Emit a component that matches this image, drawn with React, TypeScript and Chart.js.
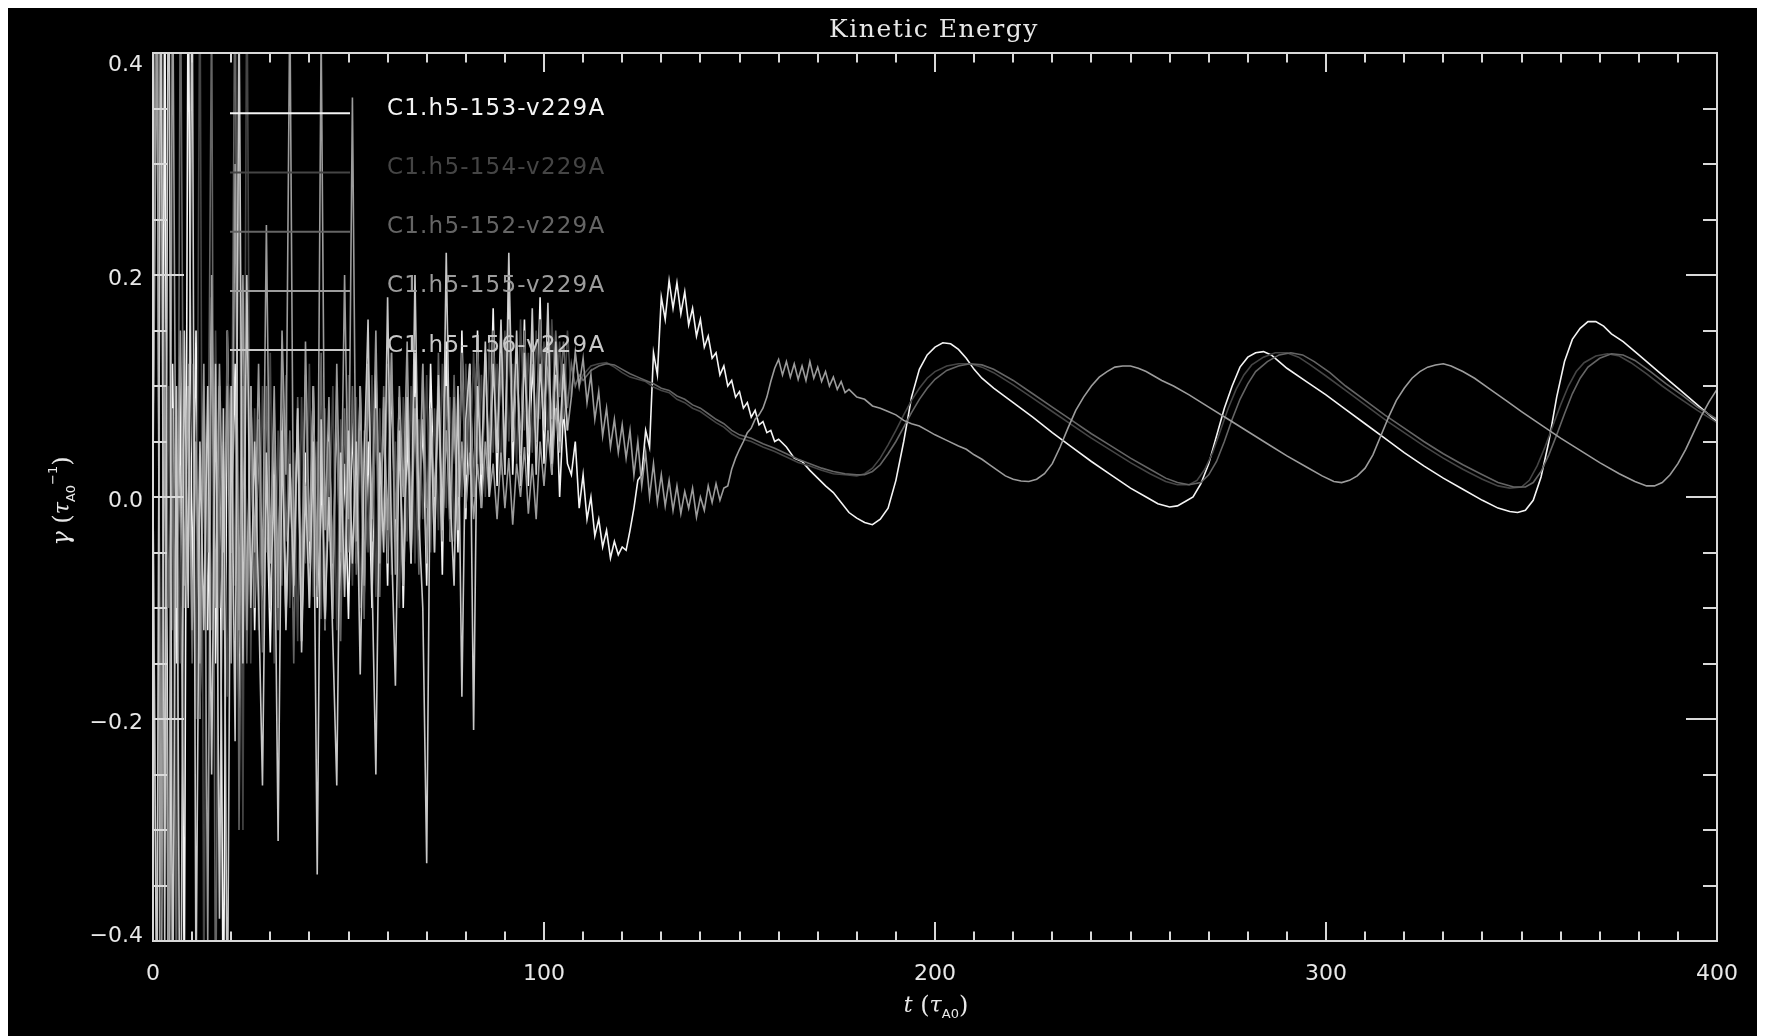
import React, { useEffect, useRef } from 'react';
import { Chart, registerables } from 'chart.js';

Chart.register(...registerables);

// ---------- axes ----------
const X_MIN = 0;
const X_MAX = 400;
const X_MINOR_STEP = 10;
const X_TICK_VALUES = [0, 100, 200, 300, 400];
const X_TICK_LABELS = ['0', '100', '200', '300', '400'];
const Y_MIN = -0.4;
const Y_MAX = 0.4;
const Y_MINOR_STEP = 0.05;
const Y_TICK_VALUES = [-0.4, -0.2, 0, 0.2, 0.4];
const Y_TICK_LABELS = ['\u22120.4', '\u22120.2', '0.0', '0.2', '0.4'];

const TITLE = 'Kinetic Energy';
const SERIES_NAMES = ['C1.h5-153-v229A', 'C1.h5-154-v229A', 'C1.h5-152-v229A', 'C1.h5-155-v229A', 'C1.h5-156-v229A'];
const SERIES_COLORS = ['#f4f4f4', '#454545', '#656565', '#9c9c9c', '#c8c8c8'];

// ---------- data: common early time grid (t = 0 .. 109) ----------
const T_EARLY = [0, 1, 2, 3, 4, 5, 6, 7, 8, 9, 10, 11, 12, 13, 14, 15, 16, 17, 18, 19, 20, 21, 22, 23, 24, 25, 26, 27, 28, 29, 30, 31, 32, 33, 34, 35, 36, 37, 38, 39, 40, 41, 42, 43, 44, 45, 46, 47, 48, 49, 50, 51, 52, 53, 54, 55, 56, 57, 58, 59, 60, 61, 62, 63, 64, 65, 66, 67, 68, 69, 70, 71, 72, 73, 74, 75, 76, 77, 78, 79, 80, 81, 82, 83, 84, 85, 86, 87, 88, 89, 90, 91, 92, 93, 94, 95, 96, 97, 98, 99, 100, 101, 102, 103, 104, 105, 106, 107, 108, 109];

// C1.h5-153 (white)
const V153_EARLY = [0.05, 0.6, -0.6, 0.5, -0.55, 0.12, -0.15, 0.1, -0.45, 0.5, -0.1, 0.15, -0.2, 0.08, -0.12, 0.18, -0.15, 0.1, -0.5, 0.15, -0.05, 0.12, -0.2, 0.05, -0.1, 0.1,
  -0.12, 0.06, -0.1, 0.02, -0.14, 0.05, -0.08, 0.09, -0.11, 0.03, -0.09, 0.07, -0.13, 0.04, -0.06, 0.1, -0.1, 0.02, -0.12, 0.06, -0.07, 0.08, -0.09, 0.03, -0.11,
  0.07, -0.06, 0.1, -0.09, 0.05, -0.1, 0.12, -0.05, 0.08, -0.08, 0.11, -0.04, 0.09, -0.1, 0.06, -0.06, 0.13, -0.03, 0.07, -0.08, 0.12, -0.02, 0.1, -0.07, 0.14, -0.04, 0.09, -0.05, 0.15, -0.02,
  0.12, 0.0, 0.15, -0.01, 0.13, 0.02, 0.17, 0.01, 0.14, 0.03, 0.19, 0.02, 0.13, 0.04, 0.16, 0.01, 0.12, 0.05, 0.18, 0.03, 0.14, 0.02, 0.11, 0.0, 0.08, 0.03];
const T153_TAIL = [107, 108, 109, 110, 111, 112, 113, 114, 115, 116, 117, 118, 119, 120, 121, 122, 123, 124, 125, 126, 127, 128, 129, 130, 131, 132, 133, 134, 135, 136, 137, 138, 139, 140, 141, 142, 143, 144, 145, 146, 147, 148, 149, 150, 151, 152, 153, 154, 155, 156, 157, 158, 159, 160,
  162, 164, 166, 168, 170, 172, 174, 176, 178, 180, 182, 184, 186, 188, 190, 192, 194, 196, 198, 200, 202, 204, 206, 208, 210,
  212, 215, 220, 225, 230, 235, 240, 245, 250, 254, 257, 260, 262, 264, 266, 268, 270, 272, 274, 276, 278, 280, 282, 284, 286, 288, 290, 295, 300, 305, 310, 315, 320, 325, 330, 335, 340, 344, 347, 349, 351, 353, 355, 357, 359, 361, 363, 365, 367, 369, 371, 373, 376, 380, 385, 390, 395, 400];
const V153_TAIL = [0.02, 0.05, -0.01, 0.02, -0.02, 0.0, -0.035, -0.02, -0.045, -0.03, -0.055, -0.04, -0.052, -0.045, -0.048, -0.03, -0.01, 0.015, 0.02, 0.06, 0.045, 0.13, 0.11, 0.18, 0.16, 0.195, 0.17, 0.193, 0.165, 0.185, 0.155, 0.17, 0.145, 0.16, 0.135, 0.145, 0.125, 0.13, 0.11, 0.118, 0.1, 0.105, 0.09, 0.095, 0.08, 0.085, 0.072, 0.078, 0.065, 0.068, 0.058, 0.06, 0.05, 0.052,
  0.045, 0.035, 0.032, 0.024, 0.017, 0.01, 0.004, -0.005, -0.014, -0.019, -0.023, -0.025, -0.02, -0.01, 0.015, 0.05, 0.09, 0.115, 0.128, 0.135, 0.139, 0.138, 0.133, 0.125, 0.115,
  0.107, 0.098, 0.085, 0.072, 0.058, 0.045, 0.032, 0.02, 0.008, 0.0, -0.006, -0.009, -0.008, -0.004, 0.0, 0.012, 0.03, 0.055, 0.08, 0.1, 0.117, 0.126, 0.13, 0.131, 0.128, 0.122, 0.116, 0.104, 0.092, 0.079, 0.066, 0.053, 0.04, 0.028, 0.017, 0.007, -0.003, -0.01, -0.013, -0.014, -0.012, -0.003, 0.018, 0.05, 0.09, 0.122, 0.142, 0.152, 0.158, 0.158, 0.154, 0.147, 0.14, 0.128, 0.113, 0.098, 0.083, 0.068];

// C1.h5-154 (dark grey)
const V154_EARLY = [0.0, -0.45, 0.5, -0.3, 0.1, -0.12, 0.08, -0.15, 0.1, -0.05, 0.12, -0.2, 0.5, -0.45, 0.1, -0.12, 0.15, -0.1, 0.05, -0.18, 0.1, -0.08, 0.35, -0.3, 0.5, -0.15,
  0.08, -0.12, 0.1, -0.05, 0.13, -0.15, 0.06, -0.08, 0.11, -0.1, 0.04, -0.13, 0.09, -0.06, 0.12, -0.09, 0.05, -0.11, 0.08, -0.04, 0.1, -0.12, 0.07, -0.07, 0.11,
  -0.08, 0.09, -0.1, 0.06, -0.05, 0.11, -0.09, 0.08, -0.03, 0.12, -0.07, 0.05, -0.1, 0.09, -0.04, 0.1, -0.06, 0.07, -0.02, 0.11, -0.05, 0.08, -0.03, 0.12, -0.01, 0.09, -0.04, 0.1, 0.0, 0.12,
  0.02, 0.13, 0.03, 0.11, 0.0, 0.14, 0.04, 0.12, 0.02, 0.15, 0.05, 0.12, 0.03, 0.16, 0.06, 0.13, 0.04, 0.15, 0.07, 0.14, 0.05, 0.16, 0.08, 0.14, 0.07, 0.15, 0.09, 0.13, 0.1];
const T154_TAIL = [110, 112, 114, 116, 118, 120, 122, 124, 126, 128, 130, 132, 134, 136, 138, 140, 142, 144, 146, 148, 150, 153, 156, 159, 162, 165, 168, 171, 174, 177, 180, 182, 184, 186, 188, 190, 192, 194, 196, 198, 200, 203, 206, 209, 212, 215, 220, 225, 230, 235, 240, 245, 250, 255, 259, 262, 265, 267, 269, 271, 273, 275, 277, 279, 281, 284, 287, 290, 293, 296, 300, 305, 310, 315, 320, 325, 330, 335, 340, 344, 347, 350, 352, 354, 356, 358, 360, 362, 364, 366, 369, 372, 375, 378, 382, 386, 390, 395, 400];
const V154_TAIL = [0.11, 0.118, 0.12, 0.121, 0.117, 0.112, 0.108, 0.106, 0.104, 0.099, 0.096, 0.094, 0.088, 0.085, 0.08, 0.077, 0.072, 0.067, 0.063, 0.057, 0.053,
  0.05, 0.045, 0.041, 0.036, 0.031, 0.028, 0.024, 0.021, 0.02, 0.019,
  0.021, 0.026, 0.035, 0.047, 0.06, 0.074, 0.087, 0.098, 0.107, 0.113,
  0.118, 0.12, 0.12, 0.117, 0.112,
  0.101, 0.089, 0.077, 0.065, 0.053, 0.042, 0.031,
  0.021, 0.014, 0.011, 0.011, 0.015, 0.025, 0.04, 0.06, 0.08, 0.097, 0.11, 0.119,
  0.126, 0.13, 0.13, 0.126, 0.119,
  0.109, 0.096, 0.083, 0.07, 0.058, 0.046, 0.035, 0.025, 0.016,
  0.01, 0.008, 0.009,
  0.015, 0.028, 0.045, 0.064, 0.083, 0.1, 0.113, 0.121,
  0.127, 0.129, 0.127, 0.121,
  0.111, 0.1, 0.09, 0.078, 0.067];

// C1.h5-152 (grey)
const V152_EARLY = [0.1, 0.5, -0.4, 0.15, -0.1, 0.08, -0.45, 0.5, -0.1, 0.12, -0.15, 0.05, -0.2, 0.1, -0.05, 0.45, -0.5, 0.08, -0.12, 0.15, -0.05, 0.5, -0.3, 0.1, -0.15, 0.08,
  -0.1, 0.07, -0.14, 0.1, -0.06, 0.08, -0.12, 0.12, -0.04, 0.06, -0.15, 0.09, -0.07, 0.11, -0.1, 0.04, -0.08, 0.13, -0.12, 0.05, -0.06, 0.1, -0.13, 0.08, -0.05,
  0.1, -0.07, 0.06, -0.11, 0.12, -0.04, 0.08, -0.09, 0.1, -0.06, 0.13, -0.02, 0.07, -0.08, 0.11, -0.03, 0.09, -0.07, 0.12, -0.01, 0.08, -0.05, 0.13, -0.02, 0.1, -0.04, 0.11, 0.0, 0.13, 0.02,
  0.11, 0.0, 0.14, 0.03, 0.12, 0.01, 0.15, 0.04, 0.13, 0.02, 0.16, 0.05, 0.12, 0.04, 0.15, 0.06, 0.14, 0.05, 0.16, 0.08, 0.13, 0.07, 0.15, 0.09, 0.14, 0.08, 0.12, 0.1, 0.11];
const T152_TAIL = [110, 112, 114, 116, 118, 120, 122, 124, 126, 128, 130, 132, 134, 136, 138, 140, 142, 144, 146, 148, 150, 153, 156, 159, 162, 165, 168, 171, 174, 177, 180, 182, 184, 186, 188, 190, 192, 194, 196, 198, 200, 203, 206, 209, 212, 215, 220, 225, 230, 235, 240, 245, 250, 255, 259, 262, 265, 268, 270, 272, 274, 276, 278, 280, 282, 285, 288, 291, 294, 297, 301, 305, 310, 315, 320, 325, 330, 335, 340, 344, 348, 351, 353, 355, 357, 359, 361, 363, 365, 367, 370, 373, 376, 379, 383, 387, 391, 395, 400];
const V152_TAIL = [0.105, 0.114, 0.118, 0.12, 0.119, 0.115, 0.111, 0.108, 0.105, 0.102, 0.098, 0.096, 0.091, 0.088, 0.083, 0.08, 0.075, 0.07, 0.066, 0.06, 0.056,
  0.053, 0.048, 0.044, 0.039, 0.034, 0.03, 0.026, 0.023, 0.021, 0.02,
  0.02, 0.023, 0.029, 0.039, 0.05, 0.063, 0.076, 0.088, 0.098, 0.106,
  0.114, 0.118, 0.12, 0.119, 0.115,
  0.105, 0.093, 0.081, 0.069, 0.057, 0.046, 0.035,
  0.025, 0.017, 0.013, 0.011, 0.013, 0.02, 0.032, 0.05, 0.07, 0.088, 0.102, 0.113, 0.122, 0.128, 0.13, 0.128, 0.122, 0.112, 0.1,
  0.087, 0.074, 0.062, 0.05, 0.039, 0.029, 0.02,
  0.013, 0.009, 0.009, 0.013, 0.023, 0.038, 0.056, 0.075, 0.093, 0.107, 0.117, 0.125, 0.129, 0.128, 0.123, 0.113, 0.102, 0.092, 0.081, 0.07];

// C1.h5-155 (light grey)
const V155_EARLY = [0.02, 0.45, -0.35, 0.1, -0.5, 0.5, -0.1, 0.15, -0.08, 0.1, -0.12, 0.05, -0.15, 0.12, -0.4, 0.2, -0.1, 0.12, -0.05, 0.1, -0.15, 0.3, -0.12, 0.2, -0.12, 0.1,
  -0.05, 0.12, -0.08, 0.245, -0.06, 0.1, -0.1, 0.15, 0.02, 0.45, -0.07, 0.08, -0.12, 0.14, -0.04, 0.1, -0.09, 0.42, -0.03, 0.09, -0.11, 0.12, -0.05, 0.2, -0.02,
  0.36, -0.04, 0.1, -0.08, 0.12, -0.02, 0.15, -0.06, 0.09, -0.03, 0.13, -0.07, 0.1, 0.0, 0.14, -0.05, 0.08, -0.02, 0.12, -0.06, 0.07, 0.0, 0.1, -0.04, 0.06, -0.02, 0.09, -0.03, 0.05, -0.01,
  0.04, -0.02, 0.03, -0.01, 0.05, 0.0, 0.03, -0.02, 0.04, -0.01, 0.035, -0.025, 0.03, 0.0, 0.045, -0.015, 0.03, -0.02, 0.05, 0.01, 0.06, 0.02, 0.08, 0.04, 0.11, 0.06];
const T155_TAIL = [107, 108, 109, 110, 111, 112, 113, 114, 115, 116, 117, 118, 119, 120, 121, 122, 123, 124, 125, 126, 127, 128, 129, 130, 131, 132, 133, 134, 135, 136, 137, 138, 139, 140, 141, 142, 143, 144, 145, 146, 147, 148, 149, 150, 151, 152, 153, 154, 155, 156, 157, 158, 159, 160, 161, 162, 163, 164, 165, 166, 167, 168, 169, 170, 171, 172, 173, 174, 175, 176, 177, 178,
  180, 182, 184, 186, 188, 190, 192, 194, 196, 198, 200, 203, 206, 208, 210, 212, 214, 216, 218, 220, 222, 224, 226, 228, 230, 232, 234, 236, 238, 240, 242, 244, 246, 248, 250, 252, 254, 256, 258,
  261, 265, 270, 275, 280, 285, 290, 295, 299, 302, 304, 306, 308, 310, 312, 314, 316, 318, 320, 322, 324, 326, 328, 330, 332, 335, 338, 342, 346, 350, 355, 360, 365, 370, 375, 379, 382, 384, 386, 388, 390, 392, 394, 396, 398, 400];
const V155_TAIL = [0.09, 0.13, 0.1, 0.125, 0.085, 0.11, 0.07, 0.095, 0.055, 0.08, 0.045, 0.07, 0.04, 0.065, 0.035, 0.06, 0.02, 0.05, 0.01, 0.04, 0.0, 0.03, -0.005, 0.02, -0.008, 0.015, -0.012, 0.01, -0.015, 0.005, -0.01, 0.008, -0.018, 0.0, -0.012, 0.01, -0.005, 0.012, -0.003, 0.008, 0.01, 0.025, 0.035, 0.043, 0.05, 0.058, 0.062, 0.07, 0.074, 0.08, 0.09, 0.104, 0.116, 0.124, 0.11, 0.122, 0.108, 0.12, 0.106, 0.118, 0.105, 0.122, 0.107, 0.117, 0.104, 0.113, 0.1, 0.108, 0.097, 0.104, 0.094, 0.097,
  0.09, 0.088, 0.082, 0.08, 0.077, 0.074, 0.069, 0.066, 0.064, 0.06, 0.056, 0.051, 0.046, 0.043, 0.038, 0.034, 0.029, 0.024, 0.019, 0.016, 0.0144, 0.014, 0.016, 0.021, 0.03, 0.045, 0.062, 0.078, 0.09, 0.1, 0.108, 0.113, 0.117, 0.118, 0.118, 0.116, 0.113, 0.109, 0.105,
  0.1, 0.092, 0.081, 0.07, 0.059, 0.048, 0.037, 0.027, 0.019, 0.014, 0.013, 0.015, 0.019, 0.026, 0.038, 0.055, 0.072, 0.087, 0.098, 0.107, 0.113, 0.117, 0.119, 0.12, 0.118, 0.113, 0.107, 0.097, 0.087, 0.077, 0.065, 0.053, 0.042, 0.031, 0.021, 0.014, 0.01, 0.01, 0.013, 0.02, 0.03, 0.043, 0.058, 0.073, 0.086, 0.097];

// C1.h5-156 (pale grey, stops early)
const V156_EARLY = [0.0, -0.5, 0.55, -0.4, 0.6, -0.5, 0.1, -0.6, 0.15, -0.1, 0.5, -0.45, 0.05, -0.12, 0.1, -0.25, 0.12, -0.38, 0.08, -0.5, 0.1, -0.22, 0.45, -0.15, 0.2, -0.1,
  0.05, -0.09, -0.26, 0.04, -0.1, 0.02, -0.31, 0.06, -0.12, 0.03, -0.08, 0.08, -0.14, 0.01, -0.1, 0.05, -0.34, 0.07, -0.11, 0.0, -0.13, -0.26, 0.04, -0.09, 0.06,
  -0.06, 0.05, -0.16, 0.03, 0.16, -0.07, -0.25, 0.04, -0.05, 0.18, -0.04, -0.17, 0.06, -0.08, 0.09, -0.06, 0.2, -0.02, -0.1, -0.33, 0.08, -0.05, 0.11, -0.03, 0.22, 0.0, -0.08, 0.1, -0.18, 0.07,
  0.12, -0.21, 0.1, 0.02, 0.14, 0.0, 0.12, 0.04, 0.16, 0.02, 0.22, 0.05, 0.15, 0.01, 0.13, 0.04, 0.17, 0.02, 0.12, 0.06, 0.175, 0.03, 0.14, 0.05, 0.12, 0.06];

// ---------- layout / style ----------
const CANVAS_W = 1749;
const CANVAS_H = 1028;
const AXIS_COLOR = '#d9d9d9';
const TEXT_COLOR = '#e8e8e8';
const SANS = '"DejaVu Sans", sans-serif';
const SERIF = '"DejaVu Serif", serif';

function pts(t: number[], v: number[]) {
  return v.map((y, i) => ({ x: t[i], y }));
}

type Run = { text: string; font: string; dy: number };

function drawRuns(ctx: CanvasRenderingContext2D, runs: Run[], cx: number, baseY: number) {
  const widths = runs.map((r) => {
    ctx.font = r.font;
    return ctx.measureText(r.text).width;
  });
  const total = widths.reduce((s, w) => s + w, 0);
  let x = cx - total / 2;
  ctx.textAlign = 'left';
  ctx.textBaseline = 'alphabetic';
  runs.forEach((r, i) => {
    ctx.font = r.font;
    ctx.fillText(r.text, x, baseY + r.dy);
    x += widths[i];
  });
}

const idlPlugin = {
  id: 'idlFrame',
  afterDraw(chart: any) {
    const { ctx, chartArea: a, scales } = chart;
    const xs = scales.x;
    const ys = scales.y;
    ctx.save();
    ctx.strokeStyle = AXIS_COLOR;
    ctx.lineWidth = 2;
    ctx.strokeRect(a.left, a.top, a.right - a.left, a.bottom - a.top);
    ctx.beginPath();
    const nx = Math.round((X_MAX - X_MIN) / X_MINOR_STEP);
    for (let i = 0; i <= nx; i++) {
      const v = X_MIN + i * X_MINOR_STEP;
      const px = Math.round(xs.getPixelForValue(v));
      const major = X_TICK_VALUES.some((m) => Math.abs(m - v) < 1e-6);
      const len = major ? 19 : 9.5;
      ctx.moveTo(px, a.bottom);
      ctx.lineTo(px, a.bottom - len);
      ctx.moveTo(px, a.top);
      ctx.lineTo(px, a.top + len);
    }
    const ny = Math.round((Y_MAX - Y_MIN) / Y_MINOR_STEP);
    for (let i = 0; i <= ny; i++) {
      const v = Y_MIN + i * Y_MINOR_STEP;
      const py = Math.round(ys.getPixelForValue(v));
      const major = Y_TICK_VALUES.some((m) => Math.abs(m - v) < 1e-6);
      const len = major ? 31 : 14;
      ctx.moveTo(a.left, py);
      ctx.lineTo(a.left + len, py);
      ctx.moveTo(a.right, py);
      ctx.lineTo(a.right - len, py);
    }
    ctx.stroke();

    // tick labels
    ctx.fillStyle = TEXT_COLOR;
    ctx.font = `22px ${SANS}`;
    ctx.textBaseline = 'alphabetic';
    ctx.textAlign = 'center';
    X_TICK_VALUES.forEach((v, i) => {
      ctx.fillText(X_TICK_LABELS[i], xs.getPixelForValue(v), a.bottom + 39);
    });
    ctx.textAlign = 'right';
    Y_TICK_VALUES.forEach((v, i) => {
      const py = ys.getPixelForValue(v);
      const base = Math.min(Math.max(py + 10, a.top + 18), a.bottom + 1);
      ctx.fillText(Y_TICK_LABELS[i], a.left - 10, base);
    });

    // title
    ctx.textAlign = 'center';
    ctx.font = `25px ${SERIF}`;
    (ctx as any).letterSpacing = '1.5px';
    ctx.fillText(TITLE, (a.left + a.right) / 2 - 1, 29);
    (ctx as any).letterSpacing = '0px';

    // x axis title: t (tau_A0)
    drawRuns(ctx, [
      { text: 't', font: `italic 22px ${SERIF}`, dy: 0 },
      { text: ' (', font: `24px ${SERIF}`, dy: 1 },
      { text: '\u03c4', font: `italic 22px ${SERIF}`, dy: 0 },
      { text: 'A0', font: `13px ${SANS}`, dy: 6 },
      { text: ')', font: `24px ${SERIF}`, dy: 1 },
    ], (a.left + a.right) / 2 + 1, a.bottom + 71);

    // y axis title: gamma (tau_A0^-1)
    ctx.save();
    ctx.translate(61, 493);
    ctx.rotate(-Math.PI / 2);
    drawRuns(ctx, [
      { text: '\u03b3', font: `italic 24px ${SERIF}`, dy: 0 },
      { text: ' (', font: `24px ${SERIF}`, dy: 1 },
      { text: '\u03c4', font: `italic 22px ${SERIF}`, dy: 0 },
      { text: 'A0', font: `13px ${SANS}`, dy: 6 },
      { text: '\u22121', font: `13px ${SANS}`, dy: -12 },
      { text: ')', font: `24px ${SERIF}`, dy: 1 },
    ], 0, 0);
    ctx.restore();

    // legend
    ctx.lineWidth = 2;
    ctx.textAlign = 'left';
    ctx.textBaseline = 'alphabetic';
    ctx.font = `23px ${SANS}`;
    (ctx as any).letterSpacing = '1.2px';
    SERIES_NAMES.forEach((name, i) => {
      const ly = 105.3 + i * 59.2;
      ctx.strokeStyle = SERIES_COLORS[i];
      ctx.beginPath();
      ctx.moveTo(222, ly);
      ctx.lineTo(342, ly);
      ctx.stroke();
      ctx.fillStyle = SERIES_COLORS[i];
      ctx.fillText(name, 379, ly + 1.5);
    });
    (ctx as any).letterSpacing = '0px';
    ctx.restore();
  },
};

export default function App() {
  const ref = useRef<HTMLCanvasElement | null>(null);
  useEffect(() => {
    document.documentElement.style.overflow = 'hidden';
    document.body.style.overflow = 'hidden';
    const canvas = ref.current;
    if (!canvas) return;
    const series = [
      [...pts(T_EARLY, V153_EARLY), ...pts(T153_TAIL, V153_TAIL)],
      [...pts(T_EARLY, V154_EARLY), ...pts(T154_TAIL, V154_TAIL)],
      [...pts(T_EARLY, V152_EARLY), ...pts(T152_TAIL, V152_TAIL)],
      [...pts(T_EARLY, V155_EARLY), ...pts(T155_TAIL, V155_TAIL)],
      [...pts(T_EARLY, V156_EARLY)],
    ];
    const chart = new Chart(canvas, {
      type: 'line',
      data: {
        datasets: series.map((d, i) => ({
          label: SERIES_NAMES[i],
          data: d,
          borderColor: SERIES_COLORS[i],
          backgroundColor: SERIES_COLORS[i],
          borderWidth: 1.6,
          pointRadius: 0,
          tension: 0,
          fill: false,
          order: SERIES_NAMES.length - i,
        })),
      },
      options: {
        animation: false,
        responsive: false,
        devicePixelRatio: 1,
        events: [],
        layout: { padding: { left: 145, right: CANVAS_W - 1709, top: 45, bottom: CANVAS_H - 933 } },
        plugins: { legend: { display: false }, title: { display: false }, tooltip: { enabled: false } },
        scales: {
          x: { type: 'linear', min: X_MIN, max: X_MAX, display: false },
          y: { type: 'linear', min: Y_MIN, max: Y_MAX, display: false },
        },
      },
      plugins: [idlPlugin],
    } as any);
    return () => chart.destroy();
  }, []);
  return (
    <canvas
      ref={ref}
      width={CANVAS_W}
      height={CANVAS_H}
      style={{ display: 'block', width: CANVAS_W, height: CANVAS_H, background: '#000' }}
    />
  );
}
